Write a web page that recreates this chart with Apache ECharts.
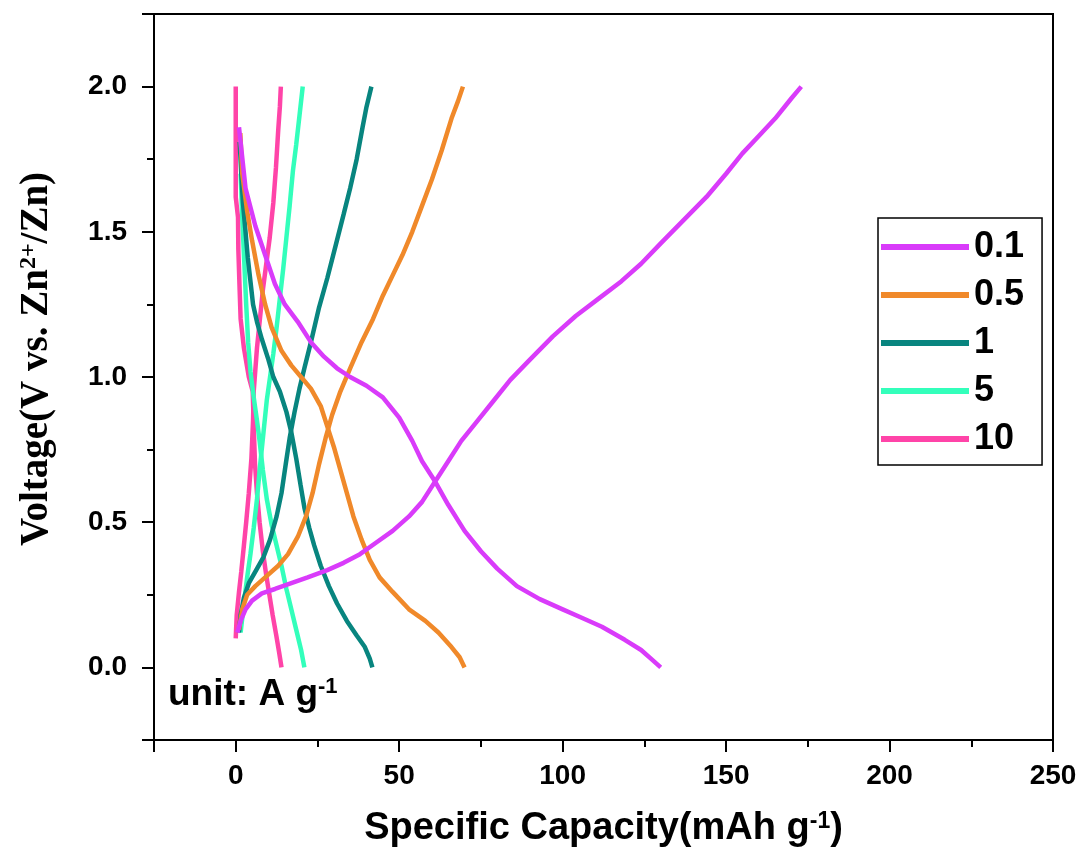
<!DOCTYPE html>
<html>
<head>
<meta charset="utf-8">
<script src="https://cdn.jsdelivr.net/npm/echarts@6/dist/echarts.min.js"></script>
<style>
  html, body { margin: 0; padding: 0; background: #fff; }
  #chart { width: 1083px; height: 863px; }
</style>
</head>
<body>
<div id="chart"></div>
<script>
// current densities (A g-1) and colours
const rates = ['0.1', '0.5', '1', '5', '10'];
const colors = ['#D93BFA', '#F0892A', '#08857F', '#33FFBB', '#FF44A8'];

// tick labels
const xTicks = [0, 50, 100, 150, 200, 250];
const yTicks = [0, 0.5, 1.0, 1.5, 2.0];

// [capacity mAh g-1, voltage V]  discharge / charge for each rate
const dis01 = [[1, 1.86], [3, 1.65], [6, 1.52], [9, 1.42], [12, 1.32], [15, 1.25], [19, 1.19], [23, 1.12], [27, 1.07], [31, 1.03], [35, 1.0], [40, 0.97], [45, 0.93], [50, 0.86], [54, 0.78], [57, 0.71], [61, 0.64], [65, 0.56], [70, 0.47], [75, 0.40], [80, 0.34], [86, 0.28], [93, 0.235], [100, 0.2], [106, 0.17], [112, 0.14], [119, 0.095], [124, 0.06], [127, 0.03], [130, 0.0]];
const chg01 = [[0.5, 0.12], [1.5, 0.16], [3, 0.2], [5, 0.23], [8, 0.255], [12, 0.27], [17, 0.29], [22, 0.31], [28, 0.335], [33, 0.36], [38, 0.39], [43, 0.43], [48, 0.47], [53, 0.52], [57, 0.57], [61, 0.64], [65, 0.71], [69, 0.78], [74, 0.85], [79, 0.92], [84, 0.99], [90, 1.06], [97, 1.14], [104, 1.21], [111, 1.27], [118, 1.33], [124, 1.39], [130, 1.46], [137, 1.54], [144, 1.62], [150, 1.7], [155, 1.77], [160, 1.83], [165, 1.89], [170, 1.96], [173, 2.0]];

const dis05 = [[1.4, 1.84], [2, 1.7], [3.5, 1.57], [5, 1.47], [7, 1.35], [9, 1.25], [11, 1.17], [14, 1.09], [17, 1.04], [20, 1.0], [23, 0.96], [26, 0.9], [28, 0.83], [30, 0.76], [32, 0.68], [34, 0.6], [36, 0.52], [38.5, 0.44], [41, 0.37], [44, 0.31], [48, 0.26], [53, 0.2], [58, 0.16], [62, 0.12], [66, 0.07], [68.5, 0.035], [70, 0]];
const chg05 = [[1, 0.13], [2, 0.2], [3.5, 0.25], [6, 0.28], [9, 0.31], [13, 0.35], [16, 0.39], [19, 0.45], [21.5, 0.52], [23.5, 0.6], [25.5, 0.7], [27.5, 0.79], [29.5, 0.87], [32, 0.95], [35, 1.03], [38.5, 1.12], [42, 1.2], [45, 1.28], [48, 1.35], [51, 1.42], [54, 1.5], [57, 1.59], [60, 1.68], [63, 1.78], [66, 1.89], [68, 1.95], [69.5, 2.0]];

const dis1 = [[1.2, 1.81], [1.7, 1.7], [2.2, 1.6], [3, 1.5], [3.7, 1.41], [4.5, 1.33], [5.3, 1.25], [6.5, 1.19], [8, 1.13], [10, 1.06], [11.5, 1.0], [13.5, 0.95], [15.5, 0.88], [17, 0.81], [18.5, 0.72], [19.8, 0.63], [21, 0.55], [22.5, 0.48], [24, 0.42], [26, 0.35], [28.5, 0.28], [31, 0.22], [34, 0.16], [37, 0.11], [39.5, 0.07], [41, 0.03], [41.8, 0]];
const chg1 = [[1, 0.12], [1.5, 0.18], [2.5, 0.24], [4, 0.29], [6, 0.33], [8.5, 0.38], [10.5, 0.44], [12.5, 0.52], [14, 0.6], [15.3, 0.7], [16.5, 0.79], [18, 0.88], [19.5, 0.96], [21, 1.03], [23, 1.12], [25.5, 1.24], [28, 1.34], [30.5, 1.45], [33, 1.56], [35, 1.65], [37, 1.75], [38.8, 1.86], [40, 1.93], [41.5, 2.0]];

const dis5 = [[1.5, 1.7], [2, 1.55], [2.6, 1.4], [3.2, 1.25], [3.8, 1.12], [4.5, 1.02], [5.5, 0.93], [6.5, 0.85], [7.3, 0.78], [8.3, 0.68], [9.5, 0.58], [11, 0.49], [12.5, 0.42], [14, 0.35], [15.5, 0.27], [17, 0.2], [18.5, 0.13], [20, 0.06], [21, 0.0]];
const chg5 = [[1.5, 0.12], [2.5, 0.22], [3.5, 0.31], [4.5, 0.39], [5.5, 0.48], [6.5, 0.58], [7.5, 0.7], [8.5, 0.81], [9.5, 0.92], [10.5, 1.0], [11.5, 1.08], [12.5, 1.17], [13.5, 1.27], [14.5, 1.37], [15.5, 1.48], [16.5, 1.59], [17.5, 1.71], [18.5, 1.8], [19.5, 1.9], [20.5, 2.0]];

const dis10 = [[0, 2.0], [0, 1.62], [0.7, 1.55], [0.8, 1.44], [1.2, 1.3], [1.5, 1.2], [2.5, 1.1], [4, 1.0], [5.2, 0.95], [5.6, 0.8], [5.9, 0.7], [6.5, 0.6], [7.3, 0.5], [8.3, 0.4], [9.3, 0.32], [10.3, 0.25], [11.3, 0.18], [12.4, 0.11], [13.3, 0.05], [14, 0]];
const chg10 = [[0, 0.1], [0.3, 0.18], [1, 0.26], [1.7, 0.33], [2.5, 0.42], [3.2, 0.5], [4, 0.6], [4.8, 0.72], [5.3, 0.85], [5.5, 0.95], [6.5, 1.1], [8.3, 1.3], [10.4, 1.48], [11.5, 1.6], [12.3, 1.72], [13, 1.85], [13.5, 1.93], [13.8, 2.0]];

const curves = [[dis01, chg01], [dis05, chg05], [dis1, chg1], [dis5, chg5], [dis10, chg10]];

const chart = echarts.init(document.getElementById('chart'), null, { renderer: 'canvas' });

const series = [];
curves.forEach((pair, i) => {
  pair.forEach(data => {
    series.push({
      name: rates[i],
      type: 'line',
      xAxisIndex: 0,
      yAxisIndex: 0,
      data: data,
      showSymbol: false,
      symbol: 'none',
      smooth: false,
      lineStyle: { color: colors[i], width: 4.5 },
      itemStyle: { color: colors[i] },
      z: 10 - i
    });
  });
});

const blk = '#000';
const arial = 'Arial, "Liberation Sans", sans-serif';
const times = '"Times New Roman", "Liberation Serif", serif';

chart.setOption({
  animation: false,
  backgroundColor: '#fff',
  grid: {
    left: 154, right: 30, top: 14, bottom: 123,
    show: true, borderColor: blk, borderWidth: 2, backgroundColor: 'transparent'
  },
  legend: {
    orient: 'vertical',
    left: 878, top: 218,
    data: rates,
    icon: 'rect',
    itemWidth: 88, itemHeight: 6,
    itemGap: 12,
    padding: [11, 18, 8, 3],
    borderColor: blk, borderWidth: 1.5,
    textStyle: { fontFamily: arial, fontWeight: 'bold', fontSize: 36, color: blk, lineHeight: 36 }
  },
  xAxis: [{
    type: 'value', min: -25, max: 250, interval: 25,
    splitLine: { show: false },
    axisLine: { show: true, onZero: false, lineStyle: { color: blk, width: 2 } },
    axisTick: { show: true, length: 12, lineStyle: { color: blk, width: 2 }, customValues: [-25, 0, 50, 100, 150, 200, 250] },
    axisLabel: { customValues: xTicks, margin: 22, fontFamily: arial, fontWeight: 'bold', fontSize: 28, color: blk,
      formatter: v => String(v) },
    name: 'Specific Capacity(mAh g{sup|-1})',
    nameLocation: 'middle', nameGap: 70,
    nameTextStyle: { fontFamily: arial, fontWeight: 'bold', fontSize: 38, color: blk,
      rich: { sup: { fontFamily: arial, fontWeight: 'bold', fontSize: 23, color: blk, verticalAlign: 'top' } } }
  }, {
    type: 'value', min: -25, max: 250, interval: 25, position: 'bottom',
    splitLine: { show: false },
    axisLine: { show: false, onZero: false },
    axisTick: { show: true, length: 7, lineStyle: { color: blk, width: 2 }, customValues: [25, 75, 125, 175, 225] },
    axisLabel: { show: false }
  }],
  yAxis: [{
    type: 'value', min: -0.25, max: 2.25, interval: 0.25,
    splitLine: { show: false },
    axisLine: { show: true, onZero: false, lineStyle: { color: blk, width: 2 } },
    axisTick: { show: true, length: 12, lineStyle: { color: blk, width: 2 }, customValues: [-0.25, 0, 0.5, 1, 1.5, 2, 2.25] },
    axisLabel: { customValues: yTicks, margin: 27, fontFamily: arial, fontWeight: 'bold', fontSize: 28, color: blk,
      formatter: v => v.toFixed(1) },
    name: 'Voltage(V vs. Zn{sup|2+}/Zn)',
    nameLocation: 'middle', nameGap: 98,
    nameTextStyle: { fontFamily: times, fontWeight: 'bold', fontSize: 39, color: blk, padding: [0, 0, 0, 36],
      rich: { sup: { fontFamily: times, fontWeight: 'bold', fontSize: 24, color: blk, verticalAlign: 'top' } } }
  }, {
    type: 'value', min: -0.25, max: 2.25, interval: 0.25, position: 'left',
    splitLine: { show: false },
    axisLine: { show: false, onZero: false },
    axisTick: { show: true, length: 7, lineStyle: { color: blk, width: 2 }, customValues: [0.25, 0.75, 1.25, 1.75] },
    axisLabel: { show: false }
  }],
  graphic: [{
    type: 'text', left: 168, top: 676,
    style: {
      text: '{a|unit: A g}{sup|-1}',
      rich: {
        a: { fontFamily: arial, fontWeight: 'bold', fontSize: 37, fill: blk },
        sup: { fontFamily: arial, fontWeight: 'bold', fontSize: 22, fill: blk, verticalAlign: 'top' }
      }
    }
  }],
  series: series
});
</script>
</body>
</html>
